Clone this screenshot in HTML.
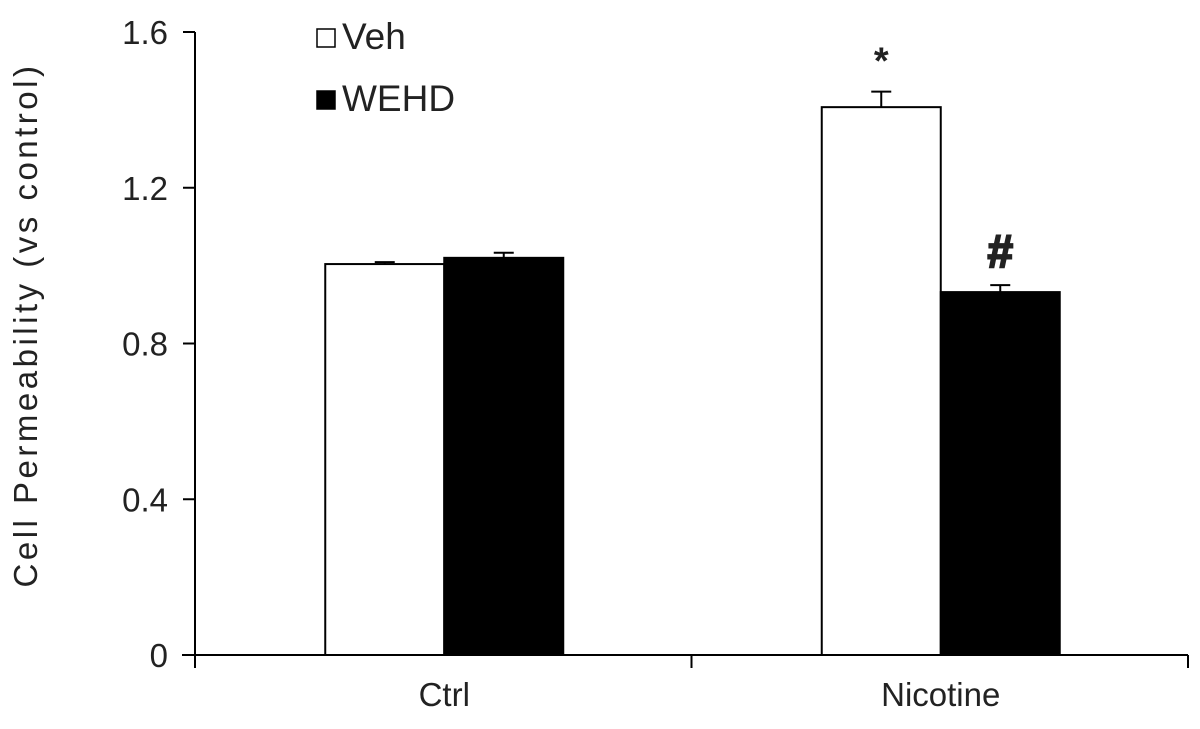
<!DOCTYPE html>
<html><head><meta charset="utf-8"><style>
html,body{margin:0;padding:0;background:#fff;}
svg text{font-family:"Liberation Sans",Arial,sans-serif;fill:#222;}
</style></head><body>
<svg width="1200" height="724" viewBox="0 0 1200 724">
<g id="axes"></g><g id="bars"></g><g id="legend"></g>
<text x="0" y="0" transform="translate(37,325) rotate(-90)" text-anchor="middle" font-size="33" letter-spacing="3.5">Cell Permeability (vs control)</text>
</svg>
<script>
const categories = ["Ctrl", "Nicotine"];
const series = ["Veh", "WEHD"];
const vehValues = [1.004, 1.407];
const wehdValues = [1.02, 0.932];
const vehErr = [0.005, 0.04];
const wehdErr = [0.013, 0.018];
const yTicks = [0, 0.4, 0.8, 1.2, 1.6];
const yTickLabels = ["0", "0.4", "0.8", "1.2", "1.6"];
const marks = ["*", "#"];

const NS = "http://www.w3.org/2000/svg";
const x0 = 195, x1 = 1188, yBase = 655, yTop = 32;
const yScale = v => yBase - v / 1.6 * (yBase - yTop);
const groupW = (x1 - x0) / categories.length;
const barW = 119;
function mk(tag, attrs, parent){const e=document.createElementNS(NS,tag);for(const k in attrs)e.setAttribute(k,attrs[k]);document.getElementById(parent).appendChild(e);return e;}
function poscorr(i){return i===0?-1:-1;}

let l = mk("line",{x1:x0,y1:yTop,x2:x0,y2:yBase,stroke:"#000","stroke-width":2},"axes");


l = mk("line",{x1:182,y1:yBase,x2:x1,y2:yBase,stroke:"#000","stroke-width":2},"axes");


yTicks.forEach((v,i)=>{
  const y=yScale(v);
  const t=mk("line",{x1:183,y1:y,x2:x0,y2:y,stroke:"#000","stroke-width":2},"axes");
  
  
  const tx=mk("text",{x:168,y:y+12,"text-anchor":"end","font-size":33},"axes");
  tx.textContent=yTickLabels[i];
  
  
});
for(let i=0;i<=categories.length;i++){
  const x=x0+i*groupW;
  const t=mk("line",{x1:x,y1:yBase,x2:x,y2:668,stroke:"#000","stroke-width":2},"axes");
  
  
}
categories.forEach((c,i)=>{
  const cx=x0+(i+0.5)*groupW;
  const tx=mk("text",{x:cx-poscorr(i),y:706,"text-anchor":"middle","font-size":33},"axes");
  tx.textContent=c;
  
  
  [vehValues,wehdValues].forEach((vals,s)=>{
    const err=s?wehdErr:vehErr;
    const bx=cx-poscorr(i)-barW+s*barW;
    const y=yScale(vals[i]);
    const ex=bx+barW/2, ey=yScale(vals[i]+err[i]);
    const el=mk("line",{x1:ex,y1:y,x2:ex,y2:ey,stroke:"#000","stroke-width":2},"bars");
    
    
    const ec=mk("line",{x1:ex-10,y1:ey,x2:ex+10,y2:ey,stroke:"#000","stroke-width":2},"bars");
    
    
    const r=mk("rect",{x:bx,y:y,width:barW,height:yBase-y,fill:s?"#000":"#fff",stroke:"#000","stroke-width":2},"bars");
    
    
    if(i===1){
      const m=mk("text",{x:ex,y:ey-18,"text-anchor":"middle","font-size":s?46:38,"font-weight":"bold",stroke:"#222","stroke-width":s?2:0},"bars");
      m.textContent=marks[s];
      
      
    }
  });
});
[["Veh","#fff",36],["WEHD","#000",98]].forEach(([n,f,y])=>{
  const r=mk("rect",{x:317,y:y-7,width:18,height:18,fill:f,stroke:"#000","stroke-width":1.5},"legend");
  
  
  const t=mk("text",{x:342,y:y+13,"font-size":37},"legend");
  t.textContent=n;
  
  
});
</script>
</body></html>
